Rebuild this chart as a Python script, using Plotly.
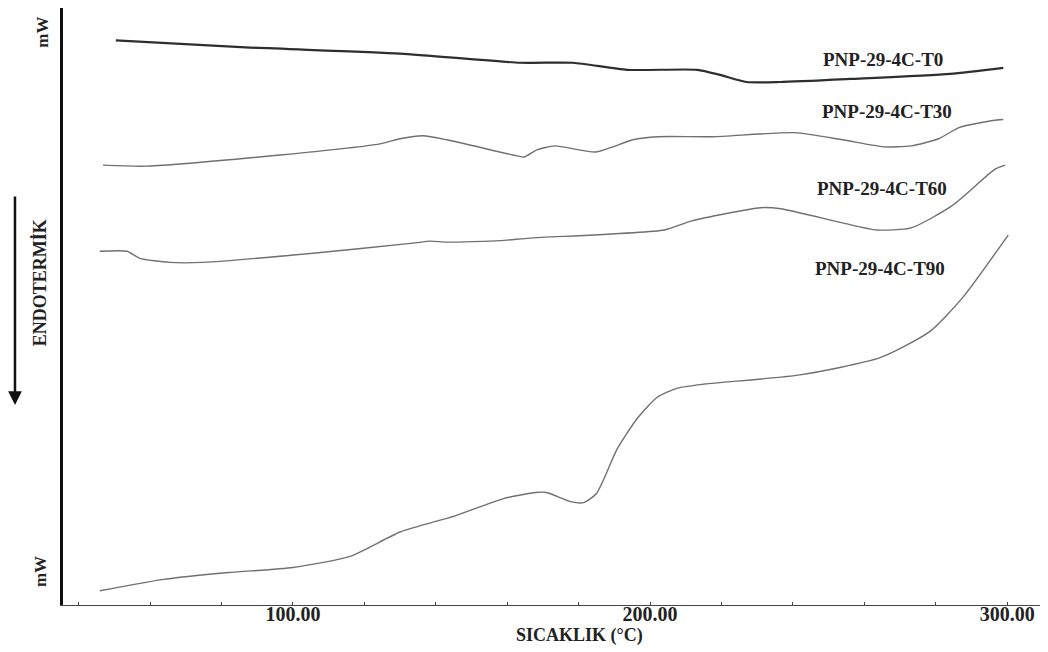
import plotly.graph_objects as go

# temperatures (°C) and signal (arbitrary mW units, offset per curve)
t_t0 = [50.4, 88, 130, 163.6, 178.4, 193.6, 213.2, 219.6, 227, 236.4, 256, 284, 298.9]
y_t0 = [557, 550, 544, 535, 535, 528, 528, 523, 516, 516, 519, 524, 530]

t_t30 = [46.8, 59.1, 96.4, 124.4, 130, 136.4, 143.1, 161.6, 164.7, 168.3, 173.3, 184.8, 195.2, 202.1,
         217.6, 240.5, 253.9, 265.4, 273.1, 280.8, 286.5, 296.1, 298.9]
y_t30 = [434, 433, 444, 455, 460, 463, 459, 444, 442, 449, 453, 447, 459, 462,
         462, 466, 459, 452, 453, 460, 471, 478, 479]

t_t60 = [45.9, 53.5, 57.1, 65.5, 74.8, 105.6, 133.6, 138.4, 143.1, 158, 166.4, 204, 211.7, 230.9,
         236.6, 253.9, 263.5, 273.1, 284.6, 296.6, 299.4]
y_t60 = [349, 349, 342, 338, 338, 347, 357, 359, 358, 359.5, 362, 370, 379, 392,
         391, 377, 370, 372, 394, 430, 434]

t_t90 = [45.9, 63.3, 82, 100, 116, 130, 145.4, 159, 168, 171, 177.7, 181.4, 185, 190.8, 196.4, 202,
         207.7, 215.3, 242, 264.4, 278.4, 287.7, 300.3]
y_t90 = [14, 25, 32, 37, 48, 72, 88, 105, 111, 111, 102, 101, 110, 154, 184, 205,
         214, 218, 227, 244, 270, 304, 365]

labels = ["PNP-29-4C-T0", "PNP-29-4C-T30", "PNP-29-4C-T60", "PNP-29-4C-T90"]
label_t = [265.2, 266.4, 264.9, 264.4]
label_y = [538, 487, 411, 332]

fig = go.Figure()
fig.add_trace(go.Scatter(x=t_t0, y=y_t0, mode="lines", line=dict(color="#2e2e2e", width=2.2, shape="spline", smoothing=0.6)))
for t, y in [(t_t30, y_t30), (t_t60, y_t60), (t_t90, y_t90)]:
    fig.add_trace(go.Scatter(x=t, y=y, mode="lines", line=dict(color="#707070", width=1.4, shape="spline", smoothing=0.6)))

serif = "Liberation Serif"
for name, tx, ty in zip(labels, label_t, label_y):
    fig.add_annotation(x=tx, y=ty, text=name, showarrow=False,
                       font=dict(family=serif, size=19, color="#222", weight="bold"))

# left side texts
fig.add_annotation(xref="paper", yref="paper", x=-0.032, y=0.988, text="mW", textangle=-90,
                   showarrow=False, font=dict(family=serif, size=17, color="#222", weight="bold"))
fig.add_annotation(xref="paper", yref="paper", x=-0.034, y=0.026, text="mW", textangle=-90,
                   showarrow=False, font=dict(family=serif, size=17, color="#222", weight="bold"))
fig.add_annotation(xref="paper", yref="paper", x=-0.036, y=0.54, text="ENDOTERMİK", textangle=-90,
                   showarrow=False, font=dict(family=serif, size=18, color="#222", weight="bold"))
fig.add_annotation(xref="paper", yref="paper", x=-0.0489, y=0.335, ax=0, ay=-210, text="",
                   showarrow=True, arrowhead=2, arrowsize=1.1, arrowwidth=2.5, arrowcolor="#111")
fig.add_annotation(xref="paper", yref="paper", x=0.526, y=-0.051, yanchor="middle", text="SICAKLIK (°C)",
                   showarrow=False, font=dict(family=serif, size=18, color="#222", weight="bold"))

# figure is drawn 8px in from the page corner, so size and margins are trimmed by that much
fig.update_layout(
    width=1040, height=644,
    margin=dict(l=55, r=3, t=0, b=47),
    plot_bgcolor="white", paper_bgcolor="white",
    showlegend=False,
    xaxis=dict(range=[35.6, 310.6], showgrid=False, zeroline=False,
               showline=True, linecolor="#444", linewidth=1.2,
               tickvals=[100, 200, 300], tickformat=".2f",
               ticks="inside", ticklen=3, tickcolor="#444", ticklabelstandoff=-9,
               minor=dict(tick0=40, dtick=20, ticks="inside", ticklen=3, tickcolor="#444"),
               tickfont=dict(family=serif, size=20, color="#222", weight="bold")),
    yaxis=dict(range=[0, 589], showgrid=False, zeroline=False, showticklabels=False,
               showline=True, linecolor="#111", linewidth=3, ticks=""),
)

fig.write_html("out.html")
